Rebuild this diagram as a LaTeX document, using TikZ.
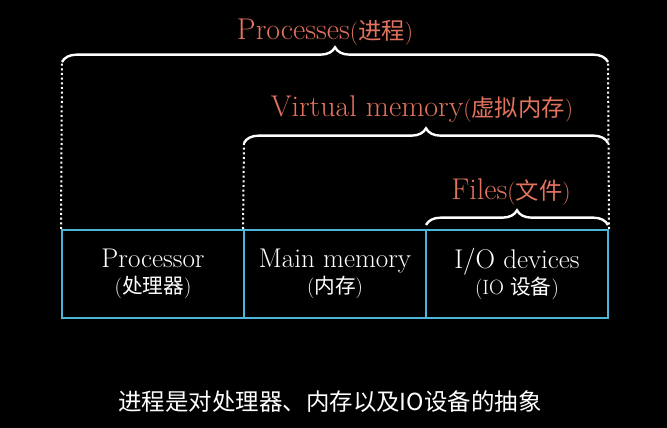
\documentclass[tikz,border=0pt]{standalone}
\usepackage{fontspec}
\usepackage{tikz}
\usetikzlibrary{decorations.pathreplacing}
\newfontfamily\cjk{Noto Sans CJK SC}
\definecolor{cellblue}{HTML}{4DB4DC}
\definecolor{labelred}{HTML}{E2735F}
\newcommand{\zhsub}[2]{{\fontsize{#1}{#1}\selectfont({\cjk #2})}}
\tikzset{
  cell/.style={
    draw=cellblue,
    line width=1.5pt,
    minimum width=136.5pt,
    minimum height=66pt,
    align=center,
    text=white,
    inner sep=0pt,
    font=\fontsize{20.3}{19}\selectfont
  },
  dotline/.style={draw=white, line width=1.5pt, dotted},
  bracket/.style={draw=white, line width=1.8pt, decorate,
    decoration={brace, amplitude=11pt}},
  lbl/.style={anchor=base, text=labelred, inner sep=0pt,
    font=\fontsize{22.5}{24}\selectfont}
}

\begin{document}
\begin{tikzpicture}[x=0.75pt,y=0.75pt]
  \fill[black] (0,0) rectangle (667,428);
  \path[use as bounding box] (0,0) rectangle (667,428);

  \node[cell] (proc) at (153,154) {Processor\\\zhsub{15.5}{处理器}};
  \node[cell] (mem) at (335,154) {Main memory\\\zhsub{15.5}{内存}};
  \node[cell] (io) at (517,154)
    {I/O devices\\{\fontsize{15.5}{15.5}\selectfont(IO {\cjk 设备})}};

  \coordinate (pl) at (62,366);
  \coordinate (pr) at (608,366);
  \coordinate (vl) at (244,285);
  \coordinate (vr) at (608,285);
  \coordinate (fl) at (426,203);
  \coordinate (fr) at (608,203);

  \draw[dotline] (proc.north west) -- (pl);
  \draw[dotline] (io.north east) -- (pr);
  \draw[dotline] (mem.north west) -- (vl);

  \draw[bracket] (pl) -- (pr);
  \draw[bracket] (vl) -- (vr);
  \draw[bracket] (fl) -- (fr);

  \node[lbl] (proclbl) at (325,388) {Processes\zhsub{17.5}{进程}};
  \node[lbl] (vmlbl) at (422,311) {Virtual memory\zhsub{17.5}{虚拟内存}};
  \node[lbl] (filelbl) at (511,228) {Files\zhsub{17.5}{文件}};

  \node[text=white, font=\cjk\fontsize{17.6}{20}\selectfont] (caption) at (330,26)
    {进程是对处理器、内存以及IO设备的抽象};
\end{tikzpicture}
\end{document}
